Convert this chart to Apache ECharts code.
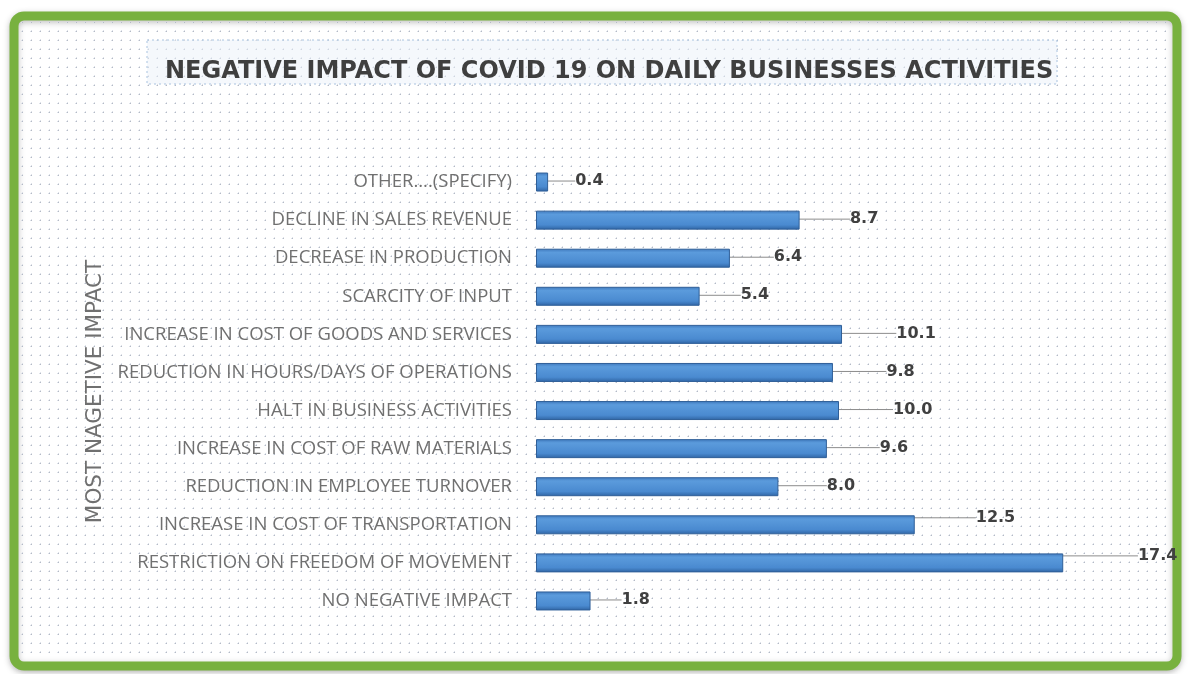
<!DOCTYPE html>
<html>
<head>
<meta charset="utf-8">
<script src="https://cdn.jsdelivr.net/npm/echarts@6/dist/echarts.min.js"></script>
<style>
  html, body { margin: 0; padding: 0; background: #ffffff; }
  #main { width: 1189px; height: 674px; }
</style>
</head>
<body>
<div id="main"></div>
<script>
// data, top row first
const categories = [
  'OTHER....(SPECIFY)',
  'DECLINE IN SALES REVENUE',
  'DECREASE IN PRODUCTION',
  'SCARCITY OF INPUT',
  'INCREASE IN COST OF GOODS AND SERVICES',
  'REDUCTION IN HOURS/DAYS OF OPERATIONS',
  'HALT IN BUSINESS ACTIVITIES',
  'INCREASE IN COST OF RAW MATERIALS',
  'REDUCTION IN EMPLOYEE TURNOVER',
  'INCREASE IN COST OF TRANSPORTATION',
  'RESTRICTION ON FREEDOM OF MOVEMENT',
  'NO NEGATIVE IMPACT'
]
const values = [0.4, 8.7, 6.4, 5.4, 10.1, 9.8, 10.0, 9.6, 8.0, 12.5, 17.4, 1.8]

const titleText = 'NEGATIVE IMPACT OF COVID 19 ON DAILY BUSINESSES ACTIVITIES'
const yAxisTitle = 'MOST NAGETIVE IMPACT'

// little dotted tile for the plot background
const tile = document.createElement('canvas')
tile.width = 9
tile.height = 9
const tctx = tile.getContext('2d')
tctx.fillStyle = '#b4bac6'
tctx.fillRect(4, 4, 1, 1)
tctx.fillStyle = '#dde1e8'
tctx.fillRect(3, 4, 1, 1)
tctx.fillRect(4, 3, 1, 1)

const chart = echarts.init(document.getElementById('main'))

const option = {
  backgroundColor: '#ffffff',
  animation: false,
  graphic: [
    {
      type: 'rect',
      z: -10,
      shape: { x: 14, y: 16, width: 1163, height: 650, r: 10 },
      style: { fill: '#ffffff', stroke: '#78b13f', lineWidth: 9, shadowBlur: 6, shadowColor: 'rgba(0,0,0,0.25)', shadowOffsetY: 2 }
    },
    {
      type: 'rect',
      z: -9,
      shape: { x: 20, y: 22, width: 1151, height: 638 },
      style: { fill: { image: tile, repeat: 'repeat' } }
    },
    {
      type: 'rect',
      z: -8,
      shape: { x: 147, y: 40, width: 910, height: 44 },
      style: { fill: 'rgba(235,242,250,0.5)', stroke: '#a9c3e0', lineWidth: 1, lineDash: [2, 3] }
    }
  ],
  title: {
    text: titleText,
    left: 160,
    top: 55,
    textStyle: {
      fontFamily: 'DejaVu Sans',
      fontWeight: 'bold',
      fontSize: 24,
      color: '#3f3f3f'
    }
  },
  grid: {
    left: 536,
    right: 47,
    top: 163,
    bottom: 54
  },
  xAxis: {
    type: 'value',
    min: 0,
    max: 20,
    show: false
  },
  yAxis: {
    type: 'category',
    data: categories,
    inverse: true,
    axisLine: { show: false },
    axisTick: { show: false },
    splitLine: { show: false },
    axisLabel: {
      margin: 24,
      fontFamily: 'Open Sans',
      fontSize: 18.5,
      color: '#707070'
    },
    name: yAxisTitle,
    nameLocation: 'middle',
    nameGap: 424,
    nameRotate: 90,
    nameTextStyle: {
      fontFamily: 'DejaVu Sans',
      fontSize: 21.5,
      color: '#707070'
    }
  },
  series: [
    {
      type: 'bar',
      data: values,
      barWidth: 19,
      itemStyle: {
        color: new echarts.graphic.LinearGradient(0, 0, 0, 1, [
          { offset: 0, color: '#3f79bd' },
          { offset: 0.2, color: '#5b9bdc' },
          { offset: 0.75, color: '#4a8ad0' },
          { offset: 1, color: '#2f64a3' }
        ]),
        borderColor: '#2f5f98',
        borderWidth: 1
      },
      label: {
        show: true,
        position: 'right',
        distance: 6,
        formatter: p => p.value.toFixed(1),
        fontFamily: 'DejaVu Sans',
        fontWeight: 'bold',
        fontSize: 16,
        color: '#404040'
      },
      labelLine: {
        show: true,
        lineStyle: { color: '#8c8c8c', width: 1 }
      },
      labelLayout: p => {
        const v = values[p.dataIndex]
        return { dx: 20 + v * 2.8, dy: v > 12 ? -7 : -1 }
      }
    }
  ]
}

chart.setOption(option)
</script>
</body>
</html>
